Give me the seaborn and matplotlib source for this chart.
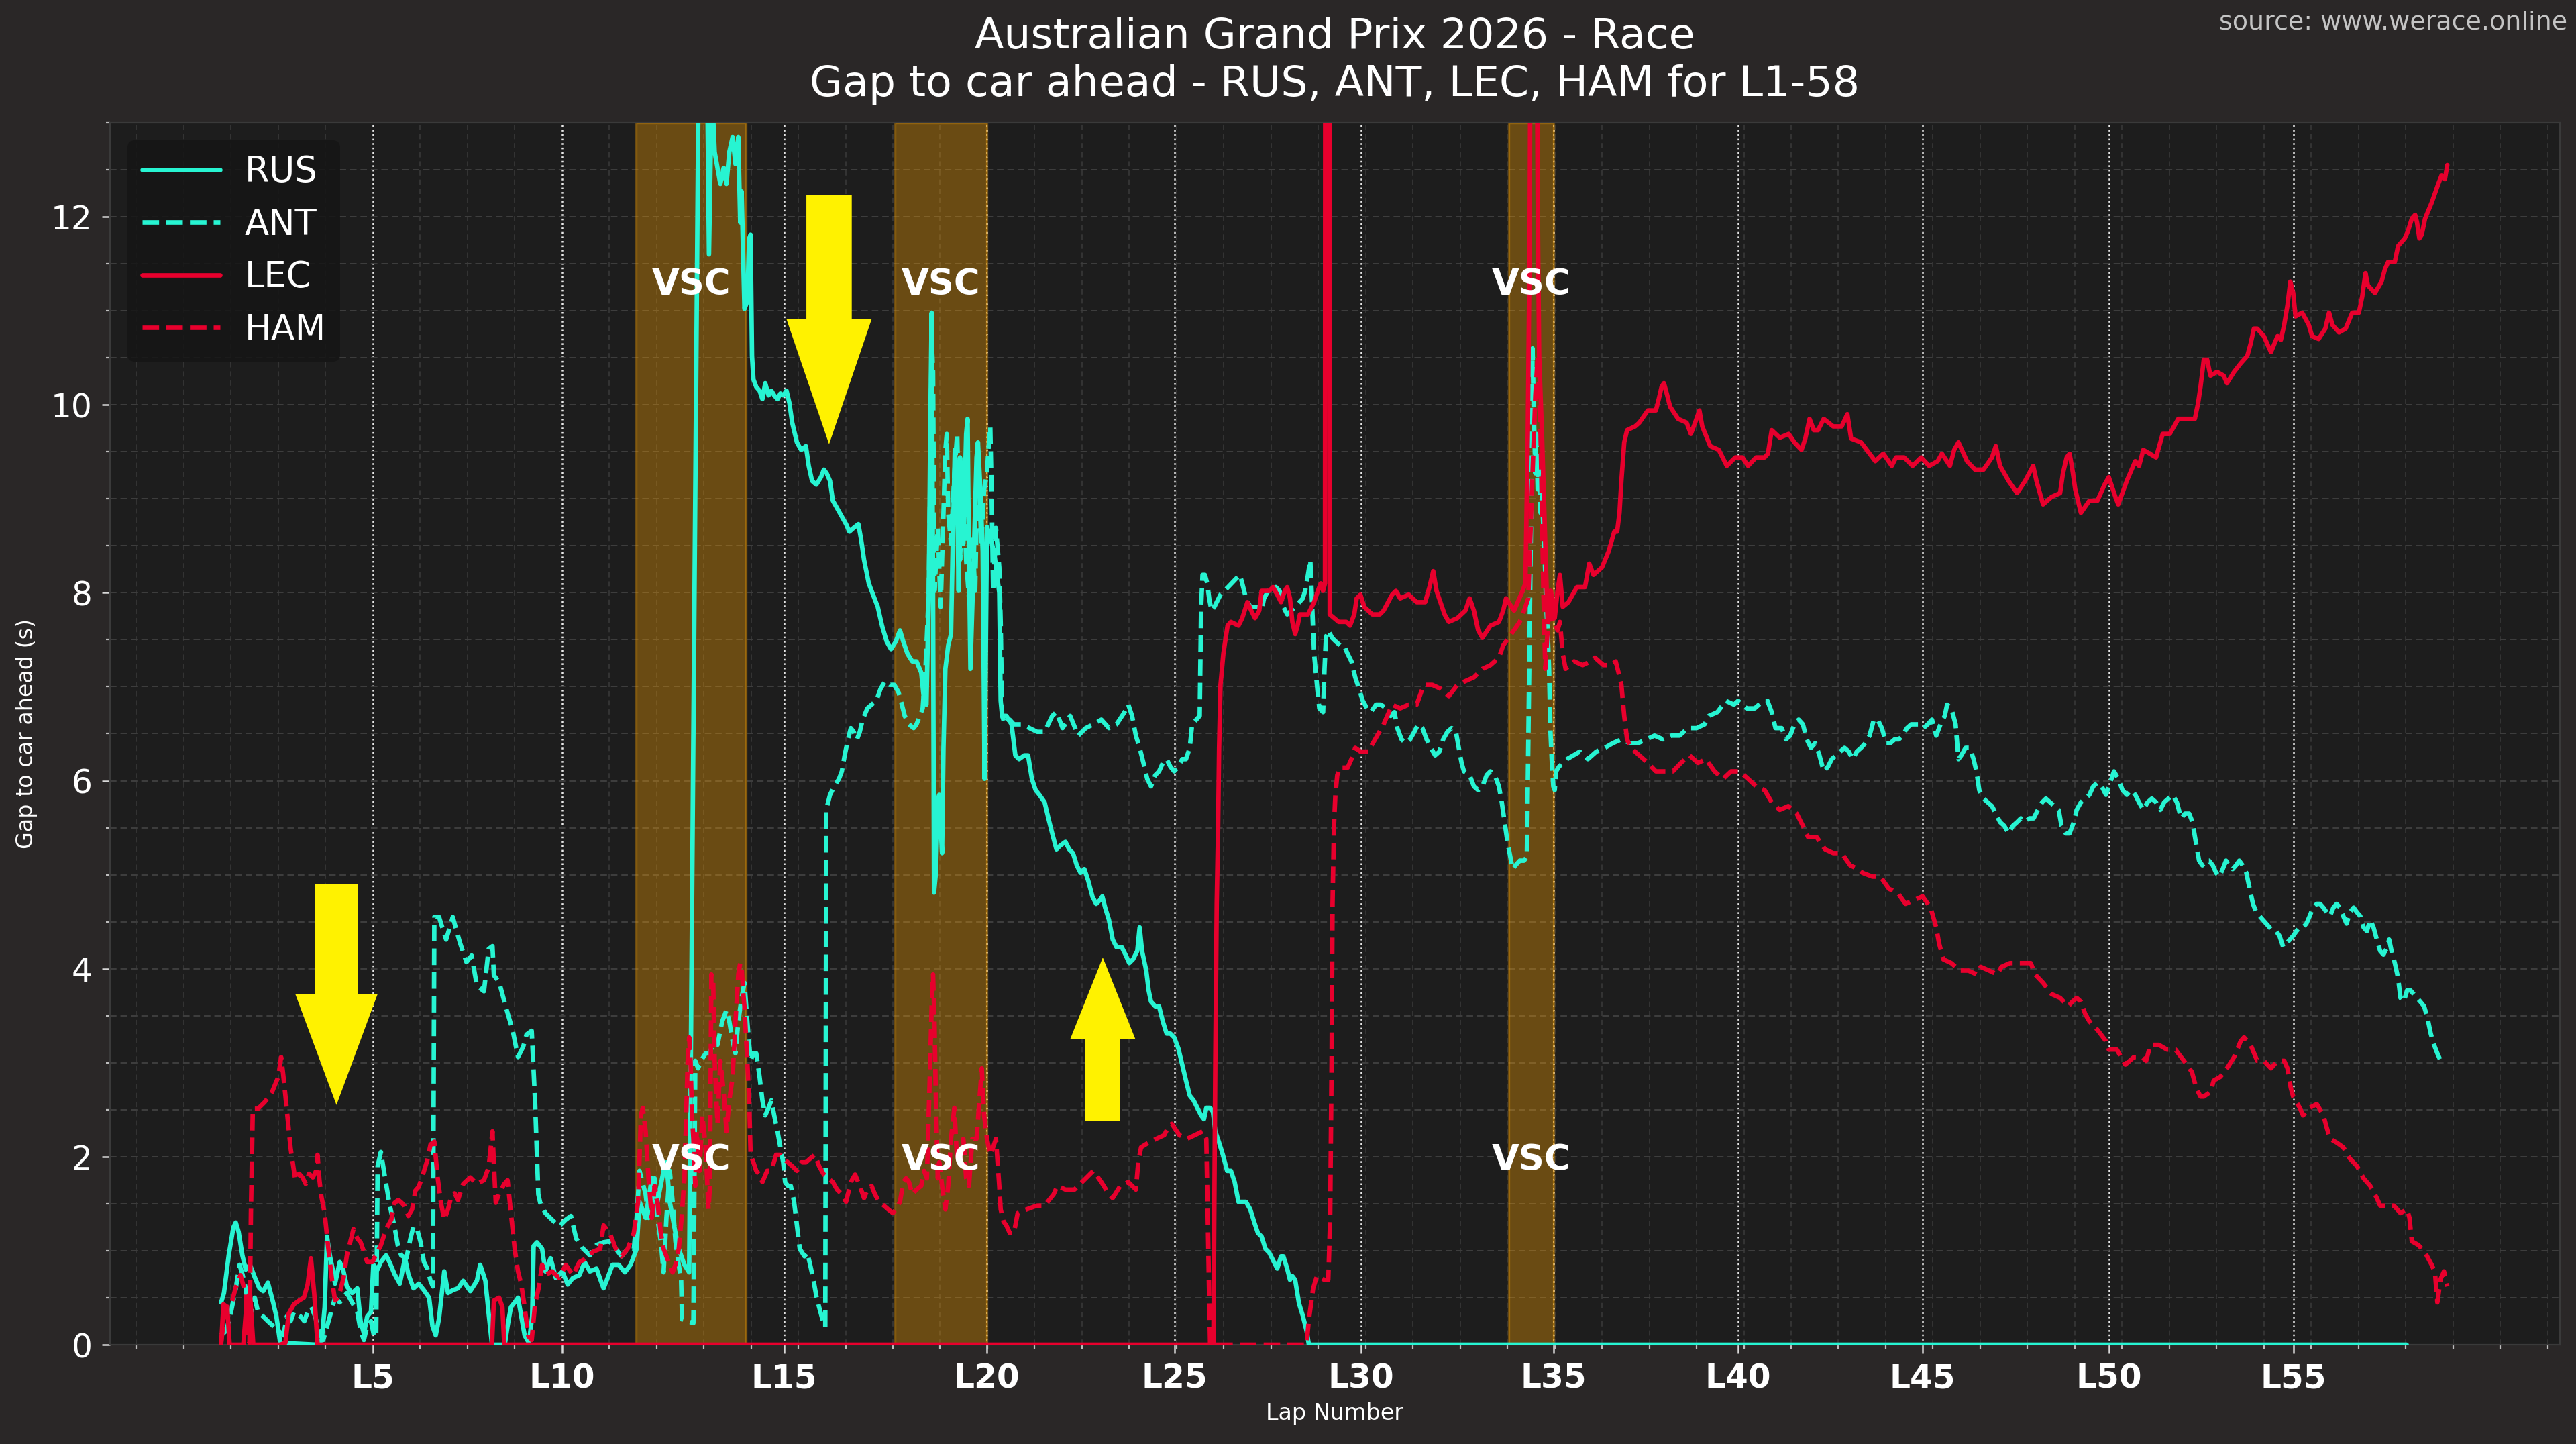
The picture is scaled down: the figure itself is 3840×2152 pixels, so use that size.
import matplotlib
matplotlib.use("Agg")
import matplotlib.pyplot as plt
import seaborn as sns
from matplotlib.patches import FancyArrow
from matplotlib.ticker import MultipleLocator

# ---------------- data (x = race-time axis, lap boundaries as ticks) ----------------
lap_tick_pos = [600, 1000, 1470, 1898, 2296, 2690, 3097, 3488, 3878, 4272, 4663]
lap_tick_labels = ["L5", "L10", "L15", "L20", "L25", "L30", "L35", "L40", "L45", "L50", "L55"]
vsc_spans = [(1157, 1389), (1704, 1898), (3003, 3097)]
drivers = ["RUS", "ANT", "LEC", "HAM"]

RUS = [(279, 0.45), (285, 0.55), (295, 0.95), (305, 1.25), (310, 1.30), (316, 1.20), (324, 0.95), (331, 0.80),
       (340, 0.85), (350, 0.72), (360, 0.60), (368, 0.57), (378, 0.66), (389, 0.45), (396, 0.30), (404, 0.02),
       (482, 0.00), (492, 0.05), (498, 0.40), (503, 1.15), (509, 0.95), (515, 0.80), (520, 0.65), (530, 0.88),
       (538, 0.78), (545, 0.62), (556, 0.55), (567, 0.60), (574, 0.25), (581, 0.12), (588, 0.30), (596, 0.35),
       (601, 0.85), (610, 0.80), (617, 0.88), (628, 0.95), (635, 0.88), (646, 0.75), (657, 0.65), (668, 0.92),
       (675, 0.75), (686, 0.60), (697, 0.65), (708, 0.58), (719, 0.50), (726, 0.20), (733, 0.10), (740, 0.28),
       (751, 0.78), (759, 0.55), (769, 0.58), (780, 0.60), (791, 0.68), (806, 0.57), (820, 0.68), (827, 0.85),
       (838, 0.68), (845, 0.33), (852, 0.00), (879, 0.00), (885, 0.20), (892, 0.40), (900, 0.45), (907, 0.50),
       (914, 0.30), (921, 0.10), (930, 0.02), (937, 0.30), (940, 1.05), (947, 1.09), (958, 1.02), (965, 0.78),
       (976, 0.92), (987, 0.71), (1001, 0.78), (1012, 0.64), (1023, 0.71), (1037, 0.74), (1048, 0.88),
       (1059, 0.78), (1073, 0.81), (1088, 0.60), (1095, 0.69), (1107, 0.85), (1120, 0.85), (1133, 0.77),
       (1145, 0.85), (1158, 1.02), (1164, 1.52), (1177, 1.35), (1190, 1.77), (1202, 1.52), (1215, 1.85),
       (1221, 1.94), (1228, 1.52), (1240, 1.19), (1247, 1.02), (1259, 0.85), (1269, 0.77), (1291, 14.8),
       (1305, 14.6), (1311, 11.6), (1317, 13.4), (1323, 12.69), (1329, 12.52), (1335, 12.35), (1342, 12.52),
       (1348, 12.35), (1354, 12.69), (1361, 12.85), (1367, 12.56), (1373, 12.85), (1377, 11.94), (1380, 12.27),
       (1386, 11.02), (1392, 11.10), (1396, 11.77), (1399, 11.81), (1402, 10.52), (1405, 10.27), (1411, 10.19),
       (1418, 10.15), (1424, 10.06), (1430, 10.23), (1437, 10.10), (1443, 10.15), (1449, 10.10), (1456, 10.06),
       (1462, 10.12), (1468, 10.10), (1475, 10.15), (1481, 10.02), (1487, 9.81), (1497, 9.60), (1506, 9.52),
       (1516, 9.56), (1522, 9.35), (1529, 9.19), (1538, 9.15), (1548, 9.23), (1554, 9.31), (1560, 9.27),
       (1567, 9.19), (1573, 8.98), (1582, 8.90), (1592, 8.81), (1601, 8.73), (1608, 8.65), (1617, 8.69),
       (1627, 8.73), (1633, 8.56), (1639, 8.35), (1649, 8.10), (1658, 7.98), (1668, 7.85), (1677, 7.65),
       (1687, 7.48), (1696, 7.40), (1706, 7.48), (1715, 7.60), (1722, 7.48), (1731, 7.35), (1741, 7.27),
       (1750, 7.27), (1760, 7.15), (1766, 6.85), (1771, 6.81), (1776, 8.02), (1779, 9.69), (1782, 10.98),
       (1785, 8.02), (1787, 4.81), (1791, 5.02), (1795, 5.77), (1798, 5.85), (1801, 5.52), (1804, 5.23),
       (1807, 6.35), (1811, 7.19), (1817, 7.44), (1823, 7.56), (1826, 8.35), (1831, 9.52), (1836, 9.10),
       (1839, 8.02), (1842, 9.44), (1849, 8.52), (1855, 9.69), (1858, 9.85), (1861, 8.35), (1864, 7.19),
       (1871, 8.35), (1877, 9.44), (1880, 9.60), (1885, 9.10), (1890, 8.44), (1894, 6.02), (1899, 8.70),
       (1906, 8.60), (1915, 8.40), (1925, 8.00), (1928, 6.85), (1931, 6.69), (1940, 6.69), (1951, 6.60),
       (1959, 6.27), (1967, 6.23), (1978, 6.27), (1986, 6.27), (1994, 6.02), (2002, 5.90), (2010, 5.85),
       (2021, 5.77), (2029, 5.60), (2037, 5.44), (2046, 5.27), (2054, 5.31), (2065, 5.35), (2073, 5.27),
       (2081, 5.23), (2089, 5.10), (2097, 5.02), (2105, 5.06), (2113, 4.94), (2122, 4.77), (2130, 4.69),
       (2138, 4.73), (2143, 4.77), (2149, 4.65), (2157, 4.52), (2165, 4.31), (2173, 4.23), (2184, 4.23),
       (2192, 4.15), (2200, 4.06), (2208, 4.10), (2217, 4.19), (2222, 4.44), (2227, 4.19), (2236, 3.98),
       (2241, 3.77), (2246, 3.65), (2255, 3.60), (2263, 3.60), (2271, 3.44), (2279, 3.31), (2287, 3.31),
       (2295, 3.27), (2304, 3.15), (2312, 2.98), (2320, 2.81), (2328, 2.65), (2336, 2.60), (2344, 2.52),
       (2352, 2.44), (2358, 2.40), (2363, 2.52), (2371, 2.52), (2377, 2.48), (2382, 2.27), (2390, 2.15),
       (2398, 2.02), (2407, 1.85), (2415, 1.85), (2423, 1.73), (2431, 1.52), (2439, 1.52), (2447, 1.52),
       (2456, 1.44), (2464, 1.31), (2472, 1.19), (2480, 1.15), (2488, 1.02), (2496, 0.98), (2504, 0.90),
       (2513, 0.81), (2521, 0.94), (2526, 0.94), (2534, 0.81), (2540, 0.69), (2545, 0.73), (2551, 0.69),
       (2559, 0.44), (2567, 0.31), (2575, 0.15), (2580, 0.00), (4902, 0.00)]

ANT = [(279, 0.10), (290, 0.15), (300, 0.35), (310, 0.60), (318, 0.85), (324, 0.75), (331, 0.60), (340, 0.30),
       (350, 0.50), (357, 0.35), (368, 0.30), (378, 0.25), (389, 0.20), (400, 0.15), (411, 0.10), (418, 0.30),
       (426, 0.25), (433, 0.35), (447, 0.30), (455, 0.25), (462, 0.35), (470, 0.40), (478, 0.30), (487, 0.12),
       (495, 0.05), (509, 0.30), (520, 0.50), (530, 0.45), (545, 0.55), (556, 0.45), (567, 0.35), (574, 0.15),
       (581, 0.05), (588, 0.20), (596, 0.25), (603, 0.08), (607, 0.10), (610, 1.90), (617, 2.05), (625, 1.80),
       (635, 1.50), (646, 1.25), (653, 1.05), (660, 0.95), (671, 0.92), (679, 1.12), (686, 1.26), (694, 1.22),
       (701, 1.09), (708, 0.88), (715, 0.81), (722, 0.68), (727, 0.62), (730, 4.55), (740, 4.55), (755, 4.31),
       (769, 4.55), (784, 4.28), (798, 4.07), (809, 4.14), (820, 3.82), (835, 3.76), (845, 4.21), (853, 4.24),
       (856, 3.93), (867, 3.86), (882, 3.58), (896, 3.34), (907, 3.06), (918, 3.17), (925, 3.30), (936, 3.34),
       (943, 2.60), (950, 1.60), (954, 1.51), (965, 1.40), (979, 1.33), (994, 1.26), (1008, 1.33), (1019, 1.37),
       (1030, 1.13), (1045, 1.02), (1059, 0.95), (1073, 1.06), (1088, 1.09), (1101, 1.10), (1114, 1.02),
       (1126, 0.94), (1139, 1.02), (1152, 1.02), (1158, 1.35), (1164, 1.85), (1177, 1.60), (1183, 1.35),
       (1190, 1.52), (1196, 1.77), (1202, 1.35), (1209, 1.10), (1215, 0.77), (1221, 1.35), (1228, 1.85),
       (1234, 1.52), (1240, 1.10), (1247, 0.85), (1252, 0.69), (1254, 0.27), (1278, 0.23), (1282, 3.02),
       (1288, 2.94), (1294, 3.02), (1304, 3.10), (1313, 3.10), (1320, 3.23), (1329, 3.19), (1339, 3.44),
       (1348, 3.56), (1354, 3.44), (1361, 3.23), (1367, 3.10), (1373, 3.44), (1380, 3.69), (1386, 3.85),
       (1392, 3.44), (1399, 3.02), (1405, 3.10), (1411, 3.10), (1418, 2.85), (1424, 2.60), (1430, 2.44),
       (1437, 2.52), (1443, 2.60), (1449, 2.44), (1456, 2.27), (1462, 2.10), (1468, 1.94), (1472, 1.73),
       (1478, 1.69), (1484, 1.69), (1491, 1.52), (1497, 1.27), (1503, 1.02), (1513, 0.94), (1519, 0.98),
       (1525, 0.85), (1532, 0.69), (1538, 0.52), (1544, 0.40), (1551, 0.27), (1557, 0.19), (1559, 5.69),
       (1567, 5.85), (1576, 5.94), (1586, 6.02), (1592, 6.10), (1598, 6.27), (1605, 6.44), (1611, 6.56),
       (1617, 6.52), (1624, 6.44), (1630, 6.52), (1636, 6.65), (1646, 6.77), (1655, 6.81), (1665, 6.85),
       (1674, 6.98), (1684, 7.06), (1693, 7.02), (1703, 7.02), (1712, 6.94), (1719, 6.81), (1725, 6.69),
       (1734, 6.60), (1744, 6.56), (1750, 6.60), (1757, 6.69), (1763, 6.77), (1769, 7.19), (1776, 8.02),
       (1780, 9.69), (1782, 10.69), (1785, 10.35), (1788, 8.02), (1795, 8.69), (1801, 7.85), (1804, 8.35),
       (1811, 9.52), (1814, 9.69), (1817, 8.85), (1823, 8.52), (1830, 9.27), (1836, 9.69), (1842, 8.35),
       (1849, 9.27), (1855, 8.35), (1861, 7.94), (1868, 8.60), (1874, 8.02), (1880, 9.52), (1887, 8.52),
       (1893, 9.10), (1899, 9.27), (1902, 9.52), (1906, 9.77), (1909, 9.02), (1912, 8.02), (1918, 8.69),
       (1925, 8.27), (1928, 7.69), (1931, 6.69), (1937, 6.60), (1947, 6.65), (1956, 6.60), (1972, 6.60),
       (1989, 6.56), (2005, 6.52), (2021, 6.52), (2037, 6.69), (2046, 6.73), (2059, 6.56), (2075, 6.69),
       (2092, 6.48), (2108, 6.56), (2124, 6.60), (2141, 6.65), (2157, 6.56), (2173, 6.60), (2190, 6.73),
       (2198, 6.81), (2206, 6.69), (2214, 6.48), (2222, 6.35), (2230, 6.19), (2238, 6.02), (2246, 5.94),
       (2255, 6.06), (2263, 6.10), (2271, 6.19), (2279, 6.23), (2287, 6.15), (2295, 6.10), (2304, 6.15),
       (2312, 6.23), (2320, 6.23), (2328, 6.35), (2333, 6.60), (2342, 6.65), (2349, 6.69), (2352, 7.85),
       (2355, 8.19), (2360, 8.19), (2365, 8.10), (2369, 7.94), (2374, 7.81), (2380, 7.85), (2393, 7.98),
       (2409, 8.06), (2426, 8.15), (2434, 8.19), (2439, 8.10), (2447, 7.94), (2456, 7.85), (2472, 7.85),
       (2480, 7.81), (2485, 7.94), (2494, 8.02), (2510, 8.06), (2518, 8.02), (2526, 7.85), (2534, 7.77),
       (2551, 7.85), (2567, 7.94), (2572, 8.02), (2578, 8.19), (2583, 8.35), (2587, 7.85), (2591, 7.35),
       (2597, 7.02), (2602, 6.77), (2610, 6.73), (2613, 7.19), (2616, 7.52), (2621, 7.60), (2629, 7.52),
       (2637, 7.48), (2646, 7.44), (2654, 7.44), (2662, 7.35), (2670, 7.27), (2678, 7.10), (2686, 6.98),
       (2694, 6.85), (2703, 6.77), (2711, 6.73), (2722, 6.81), (2732, 6.81), (2744, 6.77), (2753, 6.69),
       (2761, 6.73), (2767, 6.56), (2776, 6.44), (2785, 6.40), (2794, 6.44), (2803, 6.52), (2811, 6.60),
       (2820, 6.56), (2829, 6.44), (2838, 6.35), (2847, 6.27), (2856, 6.31), (2864, 6.44), (2873, 6.52),
       (2882, 6.56), (2891, 6.52), (2897, 6.35), (2903, 6.19), (2908, 6.10), (2920, 6.06), (2929, 5.94),
       (2938, 5.90), (2947, 5.94), (2956, 6.06), (2964, 6.10), (2973, 6.06), (2982, 5.94), (2988, 5.77),
       (2994, 5.56), (3000, 5.35), (3006, 5.19), (3011, 5.06), (3017, 5.10), (3026, 5.15), (3035, 5.15),
       (3041, 5.19), (3044, 6.35), (3047, 7.60), (3050, 8.85), (3051, 9.69), (3053, 10.60), (3056, 9.85),
       (3059, 9.27), (3061, 9.69), (3064, 9.10), (3067, 9.35), (3070, 8.85), (3073, 9.02), (3076, 8.69),
       (3079, 8.35), (3082, 7.85), (3085, 7.60), (3088, 7.19), (3091, 6.52), (3094, 6.19), (3097, 5.94),
       (3100, 5.90), (3103, 6.10), (3109, 6.15), (3126, 6.23), (3153, 6.31), (3170, 6.23), (3188, 6.31),
       (3206, 6.35), (3223, 6.40), (3241, 6.44), (3259, 6.40), (3276, 6.40), (3294, 6.44), (3311, 6.48),
       (3329, 6.44), (3347, 6.48), (3364, 6.48), (3382, 6.56), (3400, 6.56), (3417, 6.60), (3426, 6.69),
       (3444, 6.73), (3462, 6.85), (3479, 6.81), (3488, 6.85), (3506, 6.77), (3523, 6.77), (3541, 6.85),
       (3550, 6.85), (3559, 6.73), (3567, 6.56), (3580, 6.56), (3589, 6.44), (3598, 6.48), (3607, 6.60),
       (3616, 6.65), (3625, 6.60), (3633, 6.44), (3642, 6.35), (3651, 6.40), (3660, 6.27), (3669, 6.10),
       (3678, 6.15), (3686, 6.23), (3695, 6.27), (3704, 6.31), (3713, 6.35), (3722, 6.31), (3730, 6.23),
       (3739, 6.31), (3748, 6.35), (3757, 6.40), (3766, 6.48), (3775, 6.65), (3783, 6.65), (3792, 6.56),
       (3801, 6.40), (3810, 6.40), (3819, 6.44), (3828, 6.44), (3836, 6.48), (3845, 6.56), (3854, 6.60),
       (3863, 6.60), (3872, 6.60), (3880, 6.56), (3889, 6.60), (3898, 6.65), (3907, 6.48), (3916, 6.60),
       (3925, 6.69), (3930, 6.81), (3939, 6.77), (3948, 6.60), (3954, 6.23), (3960, 6.27), (3969, 6.35),
       (3978, 6.35), (3986, 6.23), (3992, 6.10), (3998, 5.90), (4007, 5.81), (4016, 5.77), (4025, 5.73),
       (4033, 5.65), (4042, 5.56), (4051, 5.52), (4060, 5.44), (4069, 5.52), (4078, 5.56), (4086, 5.60),
       (4095, 5.56), (4104, 5.60), (4113, 5.60), (4122, 5.69), (4131, 5.77), (4139, 5.81), (4148, 5.77),
       (4157, 5.73), (4166, 5.69), (4172, 5.52), (4181, 5.44), (4189, 5.44), (4198, 5.56), (4204, 5.69),
       (4213, 5.77), (4222, 5.81), (4231, 5.85), (4239, 5.94), (4248, 5.98), (4257, 5.94), (4266, 5.85),
       (4275, 5.98), (4283, 6.10), (4292, 6.02), (4301, 5.90), (4310, 5.85), (4319, 5.90), (4328, 5.85),
       (4336, 5.77), (4345, 5.69), (4354, 5.77), (4363, 5.81), (4372, 5.77), (4381, 5.69), (4389, 5.77),
       (4398, 5.81), (4407, 5.85), (4416, 5.77), (4425, 5.60), (4433, 5.65), (4442, 5.65), (4449, 5.56),
       (4456, 5.35), (4463, 5.15), (4470, 5.10), (4477, 5.15), (4484, 5.15), (4492, 5.10), (4499, 5.02),
       (4506, 4.98), (4513, 5.06), (4520, 5.15), (4527, 5.10), (4534, 5.06), (4541, 5.10), (4548, 5.15),
       (4555, 5.10), (4563, 5.02), (4570, 4.85), (4577, 4.69), (4584, 4.60), (4591, 4.56), (4598, 4.52),
       (4605, 4.48), (4612, 4.44), (4619, 4.40), (4626, 4.40), (4633, 4.35), (4641, 4.23), (4648, 4.27),
       (4655, 4.31), (4662, 4.35), (4669, 4.40), (4676, 4.44), (4683, 4.44), (4690, 4.48), (4697, 4.56),
       (4704, 4.65), (4712, 4.69), (4719, 4.69), (4726, 4.65), (4733, 4.60), (4740, 4.56), (4747, 4.65),
       (4754, 4.69), (4761, 4.65), (4768, 4.56), (4775, 4.48), (4782, 4.60), (4790, 4.65), (4797, 4.60),
       (4804, 4.56), (4811, 4.44), (4818, 4.40), (4825, 4.52), (4832, 4.44), (4839, 4.31), (4846, 4.19),
       (4853, 4.15), (4861, 4.23), (4865, 4.31), (4870, 4.19), (4877, 4.06), (4884, 3.90), (4889, 3.69),
       (4896, 3.65), (4903, 3.77), (4910, 3.77), (4917, 3.73), (4924, 3.69), (4931, 3.65), (4939, 3.60),
       (4946, 3.48), (4953, 3.31), (4960, 3.19), (4967, 3.10), (4974, 3.02), (4981, 2.98)]

LEC = [(279, 0.00), (284, 0.43), (292, 0.40), (297, 0.00), (326, 0.00), (333, 0.45), (340, 0.55), (347, 0.00),
       (404, 0.00), (415, 0.02), (422, 0.33), (433, 0.43), (444, 0.47), (454, 0.50), (462, 0.64), (469, 0.92),
       (476, 0.54), (483, 0.00), (852, 0.00), (856, 0.47), (867, 0.50), (874, 0.40), (878, 0.00), (2378, 0.00),
       (2382, 3.02), (2385, 4.69), (2388, 5.52), (2390, 6.35), (2393, 7.02), (2399, 7.35), (2404, 7.52),
       (2408, 7.65), (2415, 7.69), (2431, 7.65), (2439, 7.73), (2450, 7.90), (2458, 7.81), (2466, 7.73),
       (2475, 7.81), (2480, 8.02), (2496, 8.02), (2504, 8.06), (2513, 7.98), (2521, 7.90), (2529, 8.02),
       (2534, 8.06), (2540, 7.94), (2545, 7.69), (2551, 7.56), (2556, 7.65), (2561, 7.77), (2578, 7.77),
       (2591, 7.90), (2599, 8.02), (2605, 8.10), (2610, 8.02), (2614, 8.10), (2616, 30.0), (2621, 30.0),
       (2624, 7.77), (2643, 7.69), (2659, 7.69), (2667, 7.65), (2676, 7.77), (2681, 7.94), (2689, 7.98),
       (2697, 7.85), (2714, 7.77), (2730, 7.77), (2738, 7.81), (2756, 7.98), (2764, 8.02), (2773, 7.94),
       (2791, 7.98), (2808, 7.90), (2826, 7.90), (2835, 8.06), (2843, 8.23), (2850, 8.02), (2867, 7.77),
       (2876, 7.69), (2894, 7.73), (2911, 7.81), (2920, 7.94), (2929, 7.81), (2938, 7.60), (2947, 7.52),
       (2964, 7.65), (2982, 7.69), (2991, 7.81), (2997, 7.94), (3014, 7.81), (3032, 8.02), (3038, 8.10),
       (3043, 9.69), (3047, 11.77), (3050, 16.0), (3060, 16.0), (3064, 12.19), (3067, 10.52), (3073, 9.69),
       (3079, 8.69), (3085, 7.69), (3092, 8.02), (3100, 7.73), (3106, 8.02), (3111, 8.19), (3117, 7.85),
       (3129, 7.90), (3147, 8.06), (3164, 8.06), (3173, 8.31), (3182, 8.19), (3200, 8.27), (3214, 8.44),
       (3226, 8.65), (3232, 8.65), (3237, 8.85), (3241, 9.19), (3247, 9.60), (3253, 9.73), (3270, 9.77),
       (3279, 9.81), (3297, 9.94), (3314, 9.94), (3320, 10.06), (3326, 10.19), (3331, 10.23), (3338, 10.10),
       (3344, 9.98), (3361, 9.85), (3379, 9.81), (3388, 9.69), (3397, 9.81), (3406, 9.94), (3412, 9.77),
       (3429, 9.56), (3447, 9.52), (3464, 9.35), (3482, 9.44), (3497, 9.44), (3509, 9.35), (3526, 9.44),
       (3544, 9.44), (3551, 9.48), (3559, 9.73), (3576, 9.65), (3595, 9.69), (3607, 9.60), (3622, 9.52),
       (3630, 9.64), (3639, 9.85), (3648, 9.73), (3657, 9.73), (3669, 9.85), (3689, 9.77), (3707, 9.77),
       (3719, 9.90), (3727, 9.64), (3748, 9.60), (3766, 9.48), (3778, 9.40), (3795, 9.48), (3813, 9.35),
       (3822, 9.44), (3839, 9.44), (3857, 9.35), (3875, 9.44), (3892, 9.35), (3910, 9.40), (3919, 9.48),
       (3936, 9.35), (3945, 9.52), (3954, 9.60), (3972, 9.40), (3989, 9.31), (4007, 9.31), (4025, 9.44),
       (4033, 9.56), (4042, 9.35), (4060, 9.19), (4078, 9.06), (4095, 9.19), (4112, 9.35), (4119, 9.19),
       (4133, 8.94), (4151, 9.02), (4169, 9.06), (4175, 9.27), (4183, 9.44), (4189, 9.48), (4195, 9.31),
       (4201, 9.10), (4213, 8.85), (4231, 8.98), (4248, 8.98), (4263, 9.15), (4272, 9.23), (4286, 9.02),
       (4292, 8.94), (4310, 9.19), (4328, 9.40), (4336, 9.35), (4345, 9.52), (4372, 9.44), (4386, 9.69),
       (4401, 9.69), (4419, 9.85), (4436, 9.85), (4454, 9.85), (4461, 10.02), (4466, 10.19), (4473, 10.48),
       (4480, 10.48), (4487, 10.31), (4501, 10.35), (4515, 10.31), (4522, 10.23), (4537, 10.35), (4551, 10.44),
       (4565, 10.52), (4572, 10.65), (4579, 10.81), (4586, 10.81), (4600, 10.73), (4615, 10.56), (4629, 10.73),
       (4636, 10.69), (4643, 10.85), (4650, 11.06), (4656, 11.31), (4662, 11.19), (4667, 10.94), (4681, 10.98),
       (4695, 10.85), (4702, 10.73), (4716, 10.70), (4730, 10.81), (4738, 10.98), (4745, 10.85), (4759, 10.77),
       (4773, 10.81), (4787, 10.98), (4801, 10.98), (4808, 11.15), (4815, 11.40), (4820, 11.27), (4835, 11.19),
       (4849, 11.31), (4856, 11.44), (4863, 11.52), (4877, 11.52), (4884, 11.69), (4898, 11.77), (4905, 11.85),
       (4913, 11.98), (4920, 12.02), (4924, 11.94), (4929, 11.77), (4934, 11.81), (4941, 11.98), (4955, 12.15),
       (4969, 12.35), (4976, 12.44), (4983, 12.40), (4988, 12.55)]

HAM = [(279, 0.02), (288, 0.40), (299, 0.40), (310, 0.61), (320, 0.74), (331, 0.54), (335, 0.19), (339, 0.02),
       (342, 1.40), (346, 2.51), (357, 2.51), (371, 2.58), (386, 2.68), (400, 2.85), (406, 3.06), (410, 2.89),
       (415, 2.65), (426, 2.09), (436, 1.75), (444, 1.82), (451, 1.78), (458, 1.71), (465, 1.82), (473, 1.78),
       (480, 1.85), (483, 2.02), (487, 1.75), (491, 1.58), (498, 1.40), (505, 1.06), (513, 0.71), (520, 0.47),
       (527, 0.50), (538, 0.71), (545, 0.95), (552, 1.09), (559, 1.23), (567, 1.13), (574, 1.09), (581, 0.99),
       (588, 0.88), (599, 0.88), (606, 0.95), (617, 1.06), (628, 1.23), (639, 1.33), (646, 1.51), (654, 1.54),
       (661, 1.51), (668, 1.47), (675, 1.37), (683, 1.44), (690, 1.64), (697, 1.68), (704, 1.78), (715, 1.96),
       (722, 2.13), (730, 2.16), (737, 1.78), (744, 1.51), (751, 1.33), (759, 1.44), (766, 1.58), (773, 1.61),
       (780, 1.54), (791, 1.71), (806, 1.78), (820, 1.71), (835, 1.75), (845, 1.89), (853, 2.27), (856, 1.92),
       (860, 1.51), (867, 1.61), (878, 1.71), (885, 1.75), (892, 1.40), (900, 1.02), (907, 0.78), (914, 0.64),
       (921, 0.40), (929, 0.09), (936, 0.05), (943, 0.43), (951, 0.61), (958, 0.85), (965, 0.74), (979, 0.78),
       (994, 0.71), (1008, 0.85), (1023, 0.74), (1037, 0.88), (1052, 0.92), (1066, 0.99), (1081, 1.02),
       (1088, 1.27), (1101, 1.19), (1114, 1.02), (1126, 0.94), (1139, 1.02), (1152, 1.19), (1161, 1.52),
       (1167, 2.44), (1171, 2.52), (1177, 2.27), (1183, 1.77), (1190, 1.35), (1196, 1.69), (1202, 1.52),
       (1209, 1.19), (1215, 1.02), (1221, 0.94), (1228, 0.85), (1234, 0.77), (1240, 0.85), (1247, 1.02),
       (1253, 1.35), (1259, 1.77), (1266, 3.02), (1269, 3.27), (1272, 3.02), (1275, 2.44), (1278, 2.19),
       (1282, 1.69), (1285, 2.27), (1291, 1.85), (1297, 2.44), (1304, 2.10), (1310, 1.44), (1313, 1.69),
       (1316, 3.94), (1320, 3.85), (1323, 3.02), (1329, 2.35), (1335, 3.02), (1342, 2.69), (1348, 2.27),
       (1354, 2.60), (1361, 2.85), (1367, 3.44), (1373, 3.94), (1377, 4.06), (1380, 4.02), (1383, 3.77),
       (1386, 3.60), (1392, 3.02), (1396, 2.60), (1399, 2.02), (1405, 1.94), (1411, 1.85), (1418, 1.81),
       (1424, 1.73), (1434, 1.85), (1443, 1.85), (1453, 2.02), (1462, 2.02), (1468, 1.98), (1478, 1.94),
       (1487, 1.90), (1497, 1.85), (1506, 1.94), (1516, 1.94), (1525, 1.98), (1535, 2.02), (1544, 1.90),
       (1554, 1.81), (1563, 1.77), (1573, 1.73), (1582, 1.65), (1592, 1.60), (1601, 1.52), (1611, 1.73),
       (1620, 1.81), (1630, 1.69), (1639, 1.56), (1646, 1.65), (1655, 1.69), (1662, 1.60), (1671, 1.52),
       (1681, 1.48), (1690, 1.44), (1700, 1.40), (1706, 1.44), (1715, 1.52), (1722, 1.73), (1728, 1.77),
       (1734, 1.73), (1741, 1.60), (1750, 1.65), (1760, 1.69), (1766, 1.85), (1772, 1.77), (1779, 3.02),
       (1782, 3.60), (1785, 3.94), (1788, 3.44), (1791, 2.60), (1795, 1.77), (1798, 1.94), (1804, 1.69),
       (1811, 1.44), (1817, 1.69), (1823, 2.19), (1830, 2.52), (1836, 1.94), (1842, 1.94), (1849, 2.19),
       (1855, 1.77), (1861, 1.69), (1868, 2.19), (1877, 2.19), (1883, 2.60), (1888, 2.94), (1893, 2.44),
       (1899, 2.19), (1906, 2.02), (1912, 2.10), (1918, 2.19), (1925, 1.69), (1928, 1.44), (1934, 1.31),
       (1940, 1.27), (1947, 1.19), (1956, 1.19), (1964, 1.40), (1983, 1.44), (2005, 1.48), (2021, 1.48),
       (2040, 1.60), (2048, 1.69), (2065, 1.65), (2084, 1.65), (2100, 1.73), (2116, 1.81), (2124, 1.85),
       (2141, 1.73), (2157, 1.60), (2165, 1.56), (2181, 1.69), (2198, 1.73), (2214, 1.65), (2219, 1.94),
       (2225, 2.10), (2241, 2.15), (2257, 2.19), (2274, 2.23), (2282, 2.31), (2290, 2.35), (2306, 2.23),
       (2322, 2.19), (2339, 2.23), (2355, 2.27), (2363, 2.19), (2366, 1.35), (2369, 0.52), (2371, 0.00),
       (2575, 0.00), (2580, 0.27), (2589, 0.60), (2597, 0.73), (2613, 0.69), (2621, 0.69), (2625, 1.35),
       (2628, 3.02), (2630, 4.69), (2633, 5.52), (2636, 5.85), (2640, 6.06), (2646, 6.14), (2662, 6.14),
       (2670, 6.23), (2678, 6.35), (2689, 6.31), (2705, 6.31), (2720, 6.44), (2738, 6.60), (2756, 6.81),
       (2773, 6.77), (2791, 6.81), (2808, 6.81), (2823, 7.02), (2841, 7.02), (2858, 6.98), (2876, 6.90),
       (2894, 7.02), (2911, 7.06), (2929, 7.10), (2947, 7.19), (2964, 7.23), (2982, 7.31), (2991, 7.44),
       (3008, 7.56), (3026, 7.69), (3038, 7.85), (3044, 7.94), (3053, 9.27), (3059, 10.10), (3064, 10.52),
       (3070, 9.69), (3076, 8.02), (3080, 7.19), (3085, 7.60), (3090, 8.02), (3094, 7.69), (3100, 7.69),
       (3106, 7.60), (3111, 7.69), (3117, 7.35), (3123, 7.19), (3141, 7.27), (3159, 7.23), (3176, 7.27),
       (3185, 7.31), (3203, 7.23), (3220, 7.23), (3229, 7.27), (3235, 7.15), (3241, 7.02), (3247, 6.69),
       (3253, 6.44), (3261, 6.35), (3279, 6.27), (3297, 6.19), (3314, 6.10), (3332, 6.10), (3350, 6.10),
       (3367, 6.19), (3385, 6.27), (3403, 6.19), (3420, 6.23), (3438, 6.10), (3456, 6.02), (3473, 6.10),
       (3491, 6.10), (3509, 6.02), (3526, 5.94), (3544, 5.90), (3559, 5.77), (3576, 5.69), (3594, 5.73),
       (3612, 5.65), (3629, 5.48), (3636, 5.40), (3654, 5.40), (3672, 5.27), (3689, 5.23), (3707, 5.23),
       (3725, 5.10), (3742, 5.06), (3751, 5.02), (3772, 4.98), (3789, 4.98), (3807, 4.85), (3825, 4.81),
       (3842, 4.69), (3860, 4.73), (3878, 4.77), (3895, 4.65), (3907, 4.44), (3913, 4.27), (3922, 4.10),
       (3939, 4.06), (3957, 3.98), (3975, 3.98), (3992, 3.94), (4001, 4.02), (4019, 3.98), (4036, 3.94),
       (4045, 4.02), (4063, 4.06), (4080, 4.06), (4098, 4.06), (4107, 4.06), (4116, 3.94), (4133, 3.85),
       (4151, 3.73), (4169, 3.69), (4186, 3.60), (4195, 3.65), (4204, 3.69), (4213, 3.65), (4222, 3.52),
       (4231, 3.44), (4248, 3.35), (4266, 3.23), (4272, 3.14), (4289, 3.14), (4307, 2.98), (4325, 3.06),
       (4342, 3.06), (4351, 3.02), (4360, 3.19), (4378, 3.19), (4395, 3.14), (4413, 3.14), (4431, 3.02),
       (4448, 2.90), (4457, 2.73), (4466, 2.64), (4473, 2.64), (4487, 2.69), (4494, 2.81), (4508, 2.85),
       (4522, 2.94), (4537, 3.06), (4551, 3.23), (4558, 3.27), (4572, 3.19), (4586, 3.02), (4600, 3.02),
       (4615, 2.94), (4629, 3.02), (4643, 3.02), (4650, 2.94), (4657, 2.73), (4662, 2.64), (4676, 2.52),
       (4683, 2.44), (4697, 2.52), (4712, 2.56), (4726, 2.44), (4733, 2.31), (4740, 2.19), (4754, 2.15),
       (4768, 2.10), (4782, 1.98), (4797, 1.90), (4811, 1.77), (4825, 1.69), (4839, 1.56), (4846, 1.48),
       (4861, 1.48), (4875, 1.48), (4889, 1.40), (4903, 1.44), (4908, 1.35), (4913, 1.10), (4927, 1.06),
       (4941, 0.98), (4955, 0.85), (4962, 0.77), (4967, 0.45), (4974, 0.70), (4981, 0.78), (4988, 0.62)]

series = {"RUS": RUS, "ANT": ANT, "LEC": LEC, "HAM": HAM}

# ---------------- style ----------------
FIG_BG = "#2a2727"
AX_BG = "#1d1d1d"
CYAN = "#27F4D2"
RED = "#E8002D"
colors = {"RUS": CYAN, "ANT": CYAN, "LEC": RED, "HAM": RED}
styles = {"RUS": "-", "ANT": "--", "LEC": "-", "HAM": "--"}

sns.set_style("dark")
plt.rcParams["font.family"] = ["DejaVu Sans"]

fig = plt.figure(figsize=(19.2, 10.76), dpi=200, facecolor=FIG_BG)
ax = fig.add_axes([0.04271, 0.06877, 0.9510, 0.8462])
ax.set_facecolor(AX_BG)

for name in drivers:
    xs = [p[0] for p in series[name]]
    ys = [p[1] for p in series[name]]
    sns.lineplot(x=xs, y=ys, ax=ax, color=colors[name], linestyle=styles[name],
                 linewidth=2.4, sort=False, estimator=None, label=name, zorder=3)

# VSC periods
for (a, b) in vsc_spans:
    ax.axvspan(a, b, color="orange", alpha=0.34, lw=1.2, zorder=1)
    cx = (a + b) / 2
    for yy in (11.28, 1.96):
        ax.text(cx, yy, "VSC", color="white", fontsize=19, fontweight="bold",
                ha="center", va="center", zorder=7)

# yellow arrows (annotations)
arrow_kw = dict(color="#fff200", length_includes_head=True, zorder=6, lw=0)
ax.add_patch(FancyArrow(523, 4.90, 0, -2.35, width=91, head_width=174, head_length=1.18, **arrow_kw))
ax.add_patch(FancyArrow(1565, 12.23, 0, -2.65, width=96, head_width=180, head_length=1.33, **arrow_kw))
ax.add_patch(FancyArrow(2144, 2.38, 0, 1.74, width=74, head_width=138, head_length=0.87, **arrow_kw))

# axes limits and ticks
ax.set_xlim(44, 5226)
ax.set_ylim(0, 13)
ax.set_xticks(lap_tick_pos)
ax.set_xticklabels(lap_tick_labels, fontweight="bold")
ax.xaxis.set_minor_locator(MultipleLocator(100))
ax.yaxis.set_major_locator(MultipleLocator(2))
ax.yaxis.set_minor_locator(MultipleLocator(0.5))
ax.tick_params(axis="both", which="major", length=4.5, width=0.9, colors="#d8d8d8",
               labelcolor="white", labelsize=17.5, pad=5, direction="out")
ax.tick_params(axis="both", which="minor", length=2.3, width=0.8, colors="#bdbdbd", direction="out")
ax.tick_params(bottom=True, left=True, which="both")

ax.yaxis.grid(True, which="both", ls=(0, (5, 3)), color="#3e3e3e", lw=0.7)
ax.xaxis.grid(True, which="minor", ls=(0, (4, 3)), color="#343434", lw=0.7)
ax.xaxis.grid(True, which="major", ls=":", color="#e8e8e8", lw=0.9)
ax.set_axisbelow(True)

for sp in ax.spines.values():
    sp.set_color("#3a3a3a")
    sp.set_linewidth(0.8)

ax.set_xlabel("Lap Number", color="white", fontsize=12)
ax.set_ylabel("Gap to car ahead (s)", color="white", fontsize=12)
ax.xaxis.set_label_coords(0.5, -0.047)
ax.yaxis.set_label_coords(-0.0296, 0.5)

leg = ax.legend(loc="upper left", fontsize=19, frameon=True, facecolor="#151515",
                edgecolor="none", framealpha=0.85, handlelength=2.2, handletextpad=0.7,
                borderaxespad=0.5)
for txt in leg.get_texts():
    txt.set_color("white")

# titles
xc = 0.04271 + 0.9510 / 2
fig.text(xc, 1 - 72 / 2152, "Australian Grand Prix 2026 - Race", color="white",
         fontsize=22.8, ha="center", va="baseline")
fig.text(xc, 1 - 143 / 2152, "Gap to car ahead - RUS, ANT, LEC, HAM for L1-58", color="white",
         fontsize=22.8, ha="center", va="baseline")
fig.text(0.9966, 1 - 34 / 2152, "source: www.werace.online", color="#c4c4c4",
         fontsize=13.7, ha="right", va="center")

fig.savefig("out.png", dpi=200, facecolor=FIG_BG)
